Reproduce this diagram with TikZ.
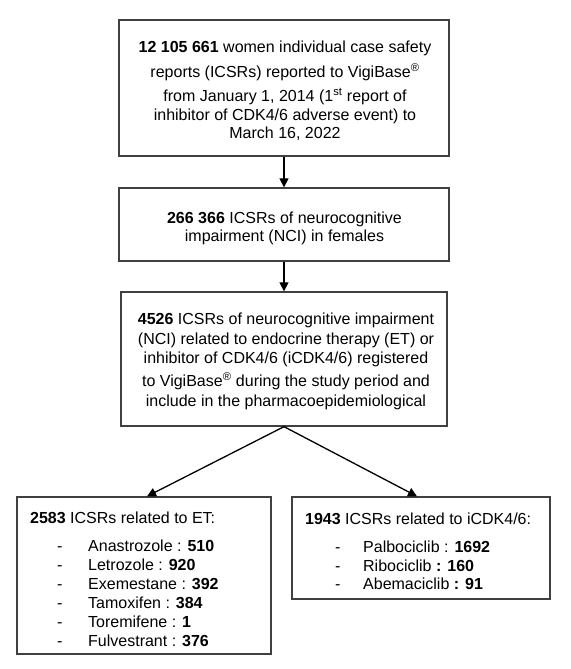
\documentclass[tikz,border=0pt]{standalone}
\usepackage{fontspec}
\setmainfont{Liberation Sans}
\usetikzlibrary{arrows.meta}
\begin{document}
\begin{tikzpicture}[x=1pt,y=1pt,
  box/.style={draw=black!75, line width=1.3pt, minimum width=#1, inner sep=0pt},
  txt/.style={inner sep=0pt, font=\fontsize{16}{18.5}\selectfont},
  arr/.style={draw=black, line width=1.3pt, -{Triangle[length=9pt,width=9pt]}}]
\useasboundingbox (0,0) rectangle (570,669);
\node[box=330pt, minimum height=136pt] (b1) at (284,581) {};
\node[box=330pt, minimum height=73pt] (b2) at (284,444.5) {};
\node[box=326pt, minimum height=134pt] (b3) at (284,310) {};
\node[box=254pt, minimum height=157pt] (b4) at (144,93.5) {};
\node[box=258pt, minimum height=102pt] (b5) at (421,121) {};
\node[txt, align=center, anchor=base] (t1) at (285,530) {\textbf{12 105 661} women individual case safety\\[6pt]
 reports (ICSRs) reported to VigiBase\textsuperscript{®}\\[6pt]
 from January 1, 2014 (1\textsuperscript{st} report of\\
 inhibitor of CDK4/6 adverse event) to\\
 March 16, 2022};
\node[txt, align=center, anchor=base] (t2) at (284.5,427) {\textbf{266 366} ICSRs of neurocognitive\\
 impairment (NCI) in females};
\node[txt, font=\fontsize{16}{19.5}\selectfont, align=center, anchor=base] (t3) at (286,262.5) {\textbf{4526} ICSRs of neurocognitive impairment\\
 (NCI) related to endocrine therapy (ET) or\\
 inhibitor of CDK4/6 (iCDK4/6) registered\\[3.5pt]
 to VigiBase\textsuperscript{®} during the study period and\\
 include in the pharmacoepidemiological};
\node[txt, font=\fontsize{16}{18.8}\selectfont, align=left, anchor=base west] (t4) at (30,23) {\textbf{2583} ICSRs related to ET:\\[9.3pt]
 \hspace*{27pt}\makebox[31pt][l]{-}Anastrozole : \textbf{510}\\
 \hspace*{27pt}\makebox[31pt][l]{-}Letrozole : \textbf{920}\\
 \hspace*{27pt}\makebox[31pt][l]{-}Exemestane : \textbf{392}\\
 \hspace*{27pt}\makebox[31pt][l]{-}Tamoxifen : \textbf{384}\\
 \hspace*{27pt}\makebox[31pt][l]{-}Toremifene : \textbf{1}\\
 \hspace*{27pt}\makebox[31pt][l]{-}Fulvestrant : \textbf{376}};
\node[txt, align=left, anchor=base west] (t5) at (305,79) {\textbf{1943} ICSRs related to iCDK4/6:\\[9.5pt]
 \hspace*{30pt}\makebox[28pt][l]{-}Palbociclib : \textbf{1692}\\
 \hspace*{30pt}\makebox[28pt][l]{-}Ribociclib\textbf{ : 160}\\
 \hspace*{30pt}\makebox[28pt][l]{-}Abemaciclib\textbf{ : 91}};
\draw[arr] (b1.south) -- (b2.north);
\draw[arr] (b2.south) -- (b3.north);
\draw[arr] (b3.south) -- ([xshift=3pt]b4.north);
\draw[arr] (b3.south) -- ([xshift=-4pt]b5.north);
\end{tikzpicture}
\end{document}
